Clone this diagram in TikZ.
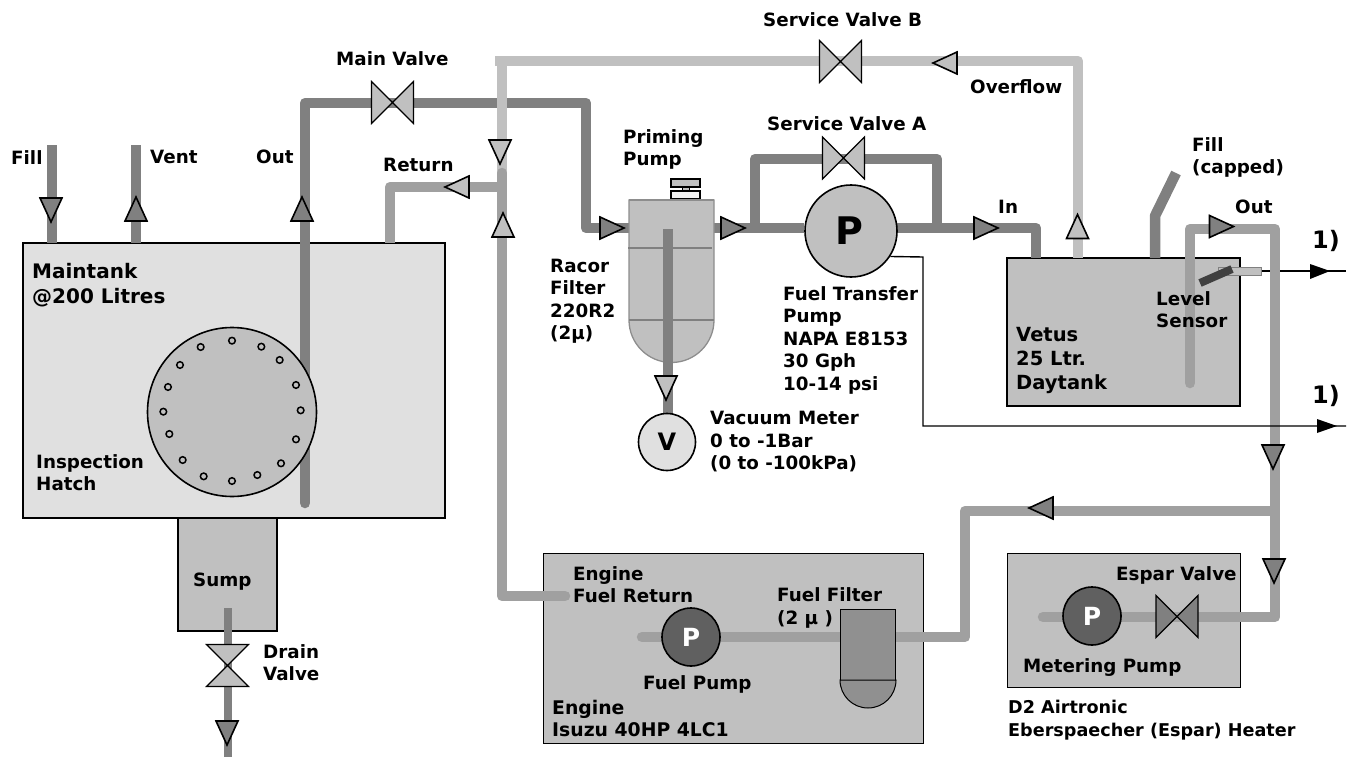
\documentclass[tikz,border=0pt]{standalone}
\usepackage{fontspec}
\setmainfont{DejaVu Sans}[BoldFont={DejaVu Sans Bold}]
\newfontfamily\symfont{DejaVu Sans}
\usetikzlibrary{calc}
\definecolor{pdark}{HTML}{808080}
\definecolor{pmid}{HTML}{A0A0A0}
\definecolor{plight}{HTML}{C0C0C0}
\definecolor{tanklight}{HTML}{E0E0E0}
\definecolor{pumpdark}{HTML}{606060}
\definecolor{filt}{HTML}{909090}
\tikzset{x=1pt,y=-1pt,
 pipeD/.style={draw=pdark,line width=10.5pt,line join=round},
 pipeM/.style={draw=pmid,line width=10.5pt,line join=round},
 pipeL/.style={draw=plight,line width=10.5pt,line join=round},
 tank/.style={draw=black,line width=1.6pt},
 lbl/.style={inner sep=0pt,anchor=north west,align=left,font=\fontsize{18.3}{22.5}\selectfont\bfseries},
 big/.style={inner sep=0pt,anchor=north west,align=left,font=\fontsize{20}{25.5}\selectfont\bfseries},
 arr/.style={draw=black,line width=1.6pt,line join=miter,fill=#1},
 valveb/.style={draw=black,line width=1.2pt,fill=#1,line join=miter},
 wire/.style={draw=black,line width=1.4pt}
}
\newcommand{\triR}[3]{\draw[arr=#3] (#1-12,#2-11) -- (#1+12,#2) -- (#1-12,#2+11) -- cycle;}
\newcommand{\triL}[3]{\draw[arr=#3] (#1+12,#2-11) -- (#1-12,#2) -- (#1+12,#2+11) -- cycle;}
\newcommand{\triU}[3]{\draw[arr=#3] (#1-11,#2+12) -- (#1,#2-12) -- (#1+11,#2+12) -- cycle;}
\newcommand{\triD}[3]{\draw[arr=#3] (#1-11,#2-12) -- (#1,#2+12) -- (#1+11,#2-12) -- cycle;}
\newcommand{\valveH}[3]{\draw[valveb=#3] (#1-21,#2-21) -- (#1+21,#2+21) -- (#1+21,#2-21) -- (#1-21,#2+21) -- cycle;}
\newcommand{\valveV}[3]{\draw[valveb=#3] (#1-21,#2-21) -- (#1+21,#2+21) -- (#1-21,#2+21) -- (#1+21,#2-21) -- cycle;}
\begin{document}
\begin{tikzpicture}
\useasboundingbox (0,0) rectangle (1359,757);
% Engine + heater boxes
\node[draw=black,line width=1pt,fill=plight,minimum width=380pt,minimum height=190pt,inner sep=0pt] (engine) at (733,648) {};
\node[draw=black,line width=1pt,fill=plight,minimum width=233pt,minimum height=134pt,inner sep=0pt] (heater) at (1123.5,620) {};
% Main tank
\node[tank,fill=tanklight,minimum width=422pt,minimum height=275pt,inner sep=0pt] (main) at (234,380.5) {};
\node[tank,fill=plight,minimum width=99pt,minimum height=113pt,inner sep=0pt] (sump) at (227.5,574.5) {};
% Day tank
\node[tank,fill=plight,minimum width=233pt,minimum height=148pt,inner sep=0pt] (day) at (1123.5,332) {};
% Sensor housing and upper wire (behind the out pipe)
\coordinate (w1) at (1346,272);
\draw[wire] (1261,271) -- (w1 |- 0,271);
\fill[black] (1310,264) -- (1330,271) -- (1310,279) -- cycle;
% Pipes
\draw[pipeD] (52,145) -- (52,243);
\draw[pipeD] (136,145) -- (136,243);
\draw[pipeD] (630,228) -- (586,228) -- (586,103) -- (305,103) -- (305,300);
\draw[pipeD,line cap=round] (305,200) -- (305,503);
\draw[pipeD,line width=8pt] (228,608) -- (228,757);
\draw[pipeM] (390,243) -- (390,187) -- (502,187);
\draw[pipeL] (495,61) -- (1078,61) -- (1078,258);
\draw[pipeL] (502,61) -- (502,175);
\draw[pipeM,line cap=round] (565,596) -- (502,596) -- (502,173);
\draw[pipeD] (714,228) -- (804,228);
\draw[pipeD] (897,228) -- (1036,228) -- (1036,258);
\draw[pipeD] (755,228) -- (755,159) -- (937,159) -- (937,228);
\draw[pipeD] (1155,258) -- (1155,216) -- (1176,173);
\draw[pipeM,line cap=round] (1190,383) -- (1190,229) -- (1275,229) -- (1275,617) -- (1100,617);
\draw[pipeM] (1275,511) -- (965,511) -- (965,637) -- (896,637);
\draw[pipeM,line cap=round] (1043,617) -- (1100,617);
\draw[pipeM,line cap=round] (642,637) -- (840,637);
% Racor filter
\draw[draw=pdark!90,line width=1.3pt,fill=plight] (629,200) -- (714,200) -- (714,320) arc[start angle=0,end angle=180,radius=42.5] -- cycle;
\draw[draw=pdark,line width=1.3pt] (628,248) -- (712,248) (629,320) -- (714,320);
\draw[draw=black,line width=1.3pt,fill=plight] (671,179) rectangle (700,187);
\draw[draw=black,line width=1pt,fill=plight] (682,187) rectangle (689,191);
\draw[draw=black,line width=1.3pt,fill=white!95!black] (671,191) rectangle (700,199);
\draw[draw=pdark!90,line width=1.3pt] (629,200) -- (714,200);
\draw[pipeD] (668,229) -- (668,415);
% Fuel filter small
\draw[draw=black,line width=1pt,fill=filt] (840,609) rectangle (895,680);
\draw[draw=black,line width=1pt,fill=filt] (840,680) arc[start angle=180,end angle=0,radius=28] -- cycle;
% Hatch
\node[draw=black,line width=1.6pt,fill=plight,circle,minimum size=169pt,inner sep=0pt] (hatch) at (232,412) {};
\foreach \px/\py in {696/632,784/650,839/690,888/765,902/841,888/928,843/1000,772/1035,696/1053,611/1039,548/990,508/912,490/845,504/771,540/705,602/651}
  \draw[black,line width=1.5pt] ({\px/3},{130+\py/3}) circle[radius=3.3];
% Pumps
\node[draw=black,line width=1.6pt,fill=plight,circle,minimum size=92pt,inner sep=0pt,font=\fontsize{38}{38}\selectfont\bfseries] (ftp) at (851,231) {P\kern4pt};
\node[draw=black,line width=1.6pt,fill=tanklight,circle,minimum size=57pt,inner sep=0pt,font=\fontsize{24}{24}\selectfont\bfseries] (vac) at (667,442) {\raisebox{-1pt}{V}};
\node[draw=black,line width=1.6pt,fill=pumpdark,circle,minimum size=58pt,inner sep=0pt,text=white,font=\fontsize{25}{25}\selectfont\bfseries] (fp) at (691,637) {P};
\node[draw=black,line width=1.6pt,fill=pumpdark,circle,minimum size=58pt,inner sep=0pt,text=white,font=\fontsize{25}{25}\selectfont\bfseries] (mp) at (1092,616) {P};
% Valves
\valveH{392.5}{102.5}{plight}
\valveH{840.5}{61.5}{plight}
\valveH{843.5}{158}{plight}
\valveH{1177}{616.5}{pdark}
\valveV{227.5}{665.5}{plight}
% Triangles
\triD{51}{210}{pdark}
\triU{136}{209}{pdark}
\triU{302}{209}{pdark}
\triL{457}{187}{plight}
\triD{500}{152}{plight}
\triU{503}{225}{plight}
\triR{612}{228}{pdark}
\triR{733}{228}{pdark}
\triR{986}{228}{pdark}
\triU{1077.5}{226.5}{plight}
\triR{1221.5}{226.5}{pdark}
\triD{666}{388}{plight}
\triL{945}{63}{plight}
\triD{1273}{457}{pdark}
\triD{1274}{571}{pdark}
\triL{1041}{508}{pdark}
\triD{227}{733}{pdark}
% Sensor
\draw[draw=pdark,line width=.8pt,fill=plight] (1218,267) rectangle (1261,275);
\draw[draw=black!75,line width=8pt] (1200,283) -- (1232,269);
% Lower wire
\coordinate (w2) at (1346,426);
\draw[wire] (ftp.-33) -- (923,257) -- (923,426) -- (w2);
\fill[black] (1317,419) -- (1337,426) -- (1317,433) -- cycle;
% Labels
\node[lbl] (t1) at (11,150) {Fill};
\node[lbl] (t2) at (150,150) {Vent};
\node[lbl] (t3) at (256,150) {Out};
\node[lbl] (t4) at (383,158) {Return};
\node[lbl] (t5) at (336,51) {Main Valve};
\node[lbl] (t6) at (763,12) {Service Valve B};
\node[lbl] (t7) at (767,116) {Service Valve A};
\node[lbl] (t8) at (970,79) {Overflow};
\node[lbl] (t9) at (623,129) {Priming\\Pump};
\node[lbl] (t10) at (550,258.5) {Racor\\Filter\\220R2\\(2{\symfont µ})};
\node[lbl] (t11) at (783,286) {Fuel Transfer\\Pump\\NAPA E8153\\30 Gph\\10-14 psi};
\node[lbl] (t12) at (710,411) {Vacuum Meter\\0 to -1Bar\\(0 to -100kPa)};
\node[lbl] (t13) at (998,200) {In};
\node[lbl] (t14) at (1192,137) {Fill\\(capped)};
\node[lbl] (t15) at (1235,200) {Out};
\node[lbl] (t16) at (1156,291) {Level\\Sensor};
\node[lbl,font=\fontsize{19.5}{24}\selectfont\bfseries] (t17) at (1016,327) {Vetus\\25 Ltr.\\Daytank};
\node[lbl,font=\fontsize{24}{24}\selectfont\bfseries] (t18) at (1312,230) {1)};
\node[lbl,font=\fontsize{24}{24}\selectfont\bfseries] (t19) at (1312,385) {1)};
\node[big] (t20) at (32,263) {Maintank\\@200 Litres};
\node[lbl] (t21) at (36,454) {Inspection\\Hatch};
\node[lbl] (t22) at (193,573) {Sump};
\node[lbl] (t23) at (263,644) {Drain\\Valve};
\node[lbl] (t24) at (573,566) {Engine\\Fuel Return};
\node[lbl] (t25) at (777,587.5) {Fuel Filter\\(2 {\symfont µ} )};
\node[lbl] (t26) at (643,675) {Fuel Pump};
\node[lbl,font=\fontsize{18.8}{22.5}\selectfont\bfseries] (t27) at (552,700) {Engine\\Isuzu 40HP 4LC1};
\node[lbl] (t28) at (1116,566) {Espar Valve};
\node[lbl] (t29) at (1023,658) {Metering Pump};
\node[lbl,font=\fontsize{17.6}{22.5}\selectfont\bfseries] (t30) at (1008,700) {D2 Airtronic\\Eberspaecher (Espar) Heater};
\end{tikzpicture}
\end{document}
